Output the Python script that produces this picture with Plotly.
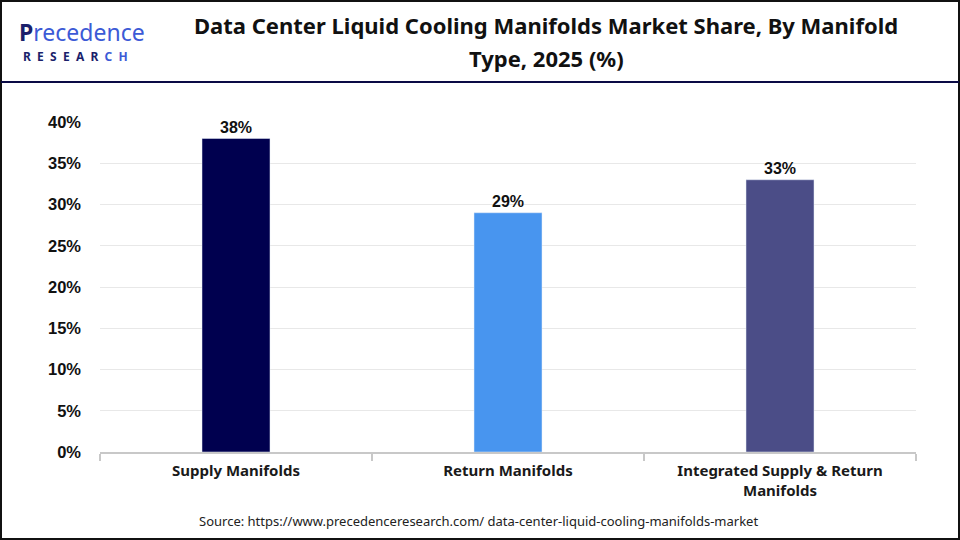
import plotly.graph_objects as go

categories = ["Supply Manifolds", "Return Manifolds", "Integrated Supply & Return<br>Manifolds"]
values = [38, 29, 33]
labels = ["38%", "29%", "33%"]
colors = ["#00004f", "#4895ef", "#4b4d87"]
yticks = [0, 5, 10, 15, 20, 25, 30, 35, 40]
yticklabels = ["0%", "5%", "10%", "15%", "20%", "25%", "30%", "35%", "40%"]
title_lines = ["Data Center Liquid Cooling Manifolds Market Share, By Manifold", "Type, 2025 (%)"]

W, H = 960, 540
L, R, T, B = 100, 916, 122, 452
pw, ph = R - L, B - T

def px(x):
    return (x - L) / pw

def py(y):
    return (B - y) / ph

fig = go.Figure()
fig.add_trace(go.Bar(
    x=categories, y=values, marker_color=colors, width=0.25,
    text=labels, textposition="outside", cliponaxis=False,
    textfont=dict(family="Liberation Sans, Arial", size=16, color="#111111", weight="bold"),
))

fig.update_layout(
    width=W, height=H,
    margin=dict(l=L, r=W - R, t=T, b=H - B),
    paper_bgcolor="white", plot_bgcolor="white",
    showlegend=False,
    bargap=0.75,
    xaxis=dict(
        showline=True, linecolor="#c8c8c8", linewidth=2,
        ticks="outside", tickson="boundaries", ticklen=7, tickcolor="#c8c8c8", tickwidth=2,
        tickfont=dict(family="Noto Sans", size=15, color="#1a1a1a", weight="bold"),
        ticklabelstandoff=4,
        showgrid=False,
    ),
    yaxis=dict(
        range=[0, 40], tickvals=yticks, ticktext=yticklabels,
        showgrid=True, gridcolor="#e8e8e8", gridwidth=1,
        zeroline=False, showline=False, ticks="",
        tickfont=dict(family="Liberation Sans, Arial", size=16.5, color="#111111", weight="bold"),
        ticklabelstandoff=18,
    ),
    shapes=[
        dict(type="rect", xref="paper", yref="paper",
             x0=px(1), x1=px(959), y0=py(539), y1=py(1),
             line=dict(color="#111111", width=2), fillcolor="rgba(0,0,0,0)", layer="above"),
        dict(type="line", xref="paper", yref="paper",
             x0=px(1), x1=px(959), y0=py(82), y1=py(82),
             line=dict(color="#0a0a45", width=2)),
    ],
    annotations=[
        dict(xref="paper", yref="paper", x=px(546), y=py(25), xanchor="center", yanchor="middle",
             text="<b>" + title_lines[0] + "</b>",
             showarrow=False, font=dict(family="Noto Sans", size=22, color="#111111")),
        dict(xref="paper", yref="paper", x=px(546), y=py(58), xanchor="center", yanchor="middle",
             text="<b>" + title_lines[1] + "</b>",
             showarrow=False, font=dict(family="Noto Sans", size=22, color="#111111")),
        dict(xref="paper", yref="paper", x=px(478), y=py(521), xanchor="center", yanchor="middle",
             text="Source: https://www.precedenceresearch.com/ data-center-liquid-cooling-manifolds-market",
             showarrow=False, font=dict(family="Noto Sans", size=13, color="#222222")),
        dict(xref="paper", yref="paper", x=px(17), y=py(32), xanchor="left", yanchor="middle",
             text="<b><span style='color:#1b1f6b'>P</span></b><span style='color:#3c5ad6'>recedence</span>",
             showarrow=False, font=dict(family="Noto Sans", size=23, color="#3c5ad6")),
        dict(xref="paper", yref="paper", x=px(21), y=py(57), xanchor="left", yanchor="middle",
             text="<b><span style='color:#1b1f6b'>R&nbsp;&nbsp;E&nbsp;&nbsp;S&nbsp;&nbsp;E&nbsp;&nbsp;A&nbsp;&nbsp;R&nbsp;&nbsp;</span><span style='color:#3c5ad6'>C&nbsp;&nbsp;H</span></b>",
             showarrow=False, font=dict(family="Noto Sans", size=12, color="#1b1f6b")),
    ],
)

fig.write_html("out.html")
